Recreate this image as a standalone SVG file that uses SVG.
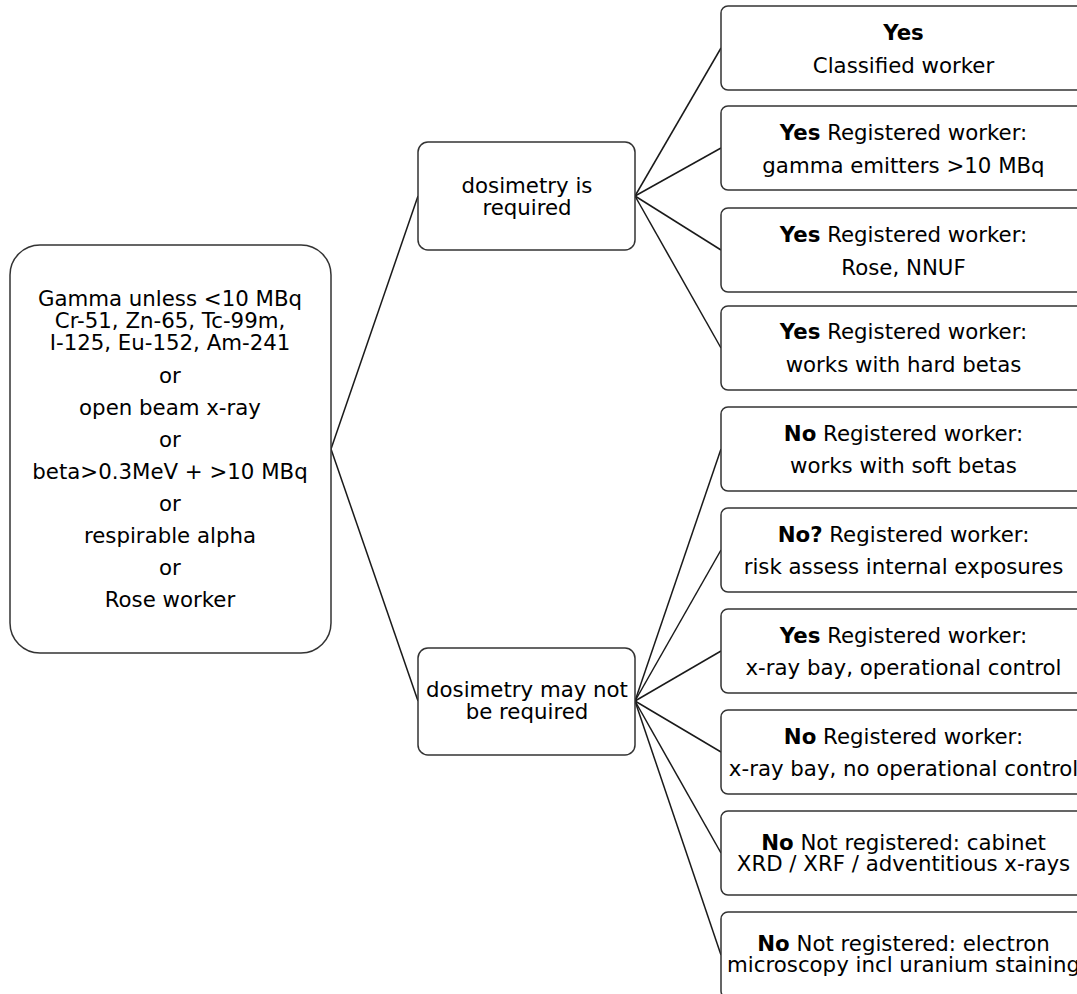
<svg xmlns="http://www.w3.org/2000/svg" width="1077" height="994" viewBox="0 0 1077 994">
<style>
.box{fill:#fff;stroke:#333;stroke-width:1.5}
.t{font-family:"DejaVu Sans",Verdana,sans-serif;font-size:21.3px;fill:#000;text-anchor:middle}
.b{font-weight:bold}
.c line{stroke:#1a1a1a;stroke-width:1.5}
</style>
<rect width="1077" height="994" fill="#fff"/>
<g class="c" id="connectors">
<line x1="331" y1="449" x2="418" y2="196"/>
<line x1="331" y1="449" x2="418" y2="701"/>
<line x1="635" y1="196" x2="721" y2="48"/>
<line x1="635" y1="196" x2="721" y2="148"/>
<line x1="635" y1="196" x2="721" y2="250"/>
<line x1="635" y1="196" x2="721" y2="348"/>
<line x1="635" y1="701" x2="721" y2="449"/>
<line x1="635" y1="701" x2="721" y2="550"/>
<line x1="635" y1="701" x2="721" y2="651"/>
<line x1="635" y1="701" x2="721" y2="752"/>
<line x1="635" y1="701" x2="721" y2="853"/>
<line x1="635" y1="701" x2="721" y2="955"/>
</g>
<g id="root">
<rect class="box" x="10" y="245" width="321" height="408" rx="30"/>
<text class="t" x="170" y="306">Gamma unless &lt;10 MBq</text>
<text class="t" x="170" y="328">Cr-51, Zn-65, Tc-99m,</text>
<text class="t" x="170" y="350">I-125, Eu-152, Am-241</text>
<text class="t" x="170" y="383">or</text>
<text class="t" x="170" y="415">open beam x-ray</text>
<text class="t" x="170" y="447">or</text>
<text class="t" x="170" y="479">beta&gt;0.3MeV + &gt;10 MBq</text>
<text class="t" x="170" y="511">or</text>
<text class="t" x="170" y="543">respirable alpha</text>
<text class="t" x="170" y="575">or</text>
<text class="t" x="170" y="607">Rose worker</text>
</g>
<g id="req">
<rect class="box" x="418" y="142" width="217" height="108" rx="10"/>
<text class="t" x="527" y="193">dosimetry is</text>
<text class="t" x="527" y="215">required</text>
</g>
<g id="notreq">
<rect class="box" x="418" y="648" width="217" height="107" rx="10"/>
<text class="t" x="527" y="697">dosimetry may not</text>
<text class="t" x="527" y="719">be required</text>
</g>
<g id="r1">
<rect class="box" x="721" y="6" width="365" height="84" rx="7"/>
<text class="t b" x="903.5" y="40">Yes</text>
<text class="t" x="903.5" y="73">Classified worker</text>
</g>
<g id="r2">
<rect class="box" x="721" y="106" width="365" height="84" rx="7"/>
<text class="t" x="903.5" y="140"><tspan class="b">Yes</tspan> Registered worker:</text>
<text class="t" x="903.5" y="173">gamma emitters &gt;10 MBq</text>
</g>
<g id="r3">
<rect class="box" x="721" y="208" width="365" height="84" rx="7"/>
<text class="t" x="903.5" y="242"><tspan class="b">Yes</tspan> Registered worker:</text>
<text class="t" x="903.5" y="275">Rose, NNUF</text>
</g>
<g id="r4">
<rect class="box" x="721" y="306" width="365" height="84" rx="7"/>
<text class="t" x="903.5" y="339"><tspan class="b">Yes</tspan> Registered worker:</text>
<text class="t" x="903.5" y="372">works with hard betas</text>
</g>
<g id="r5">
<rect class="box" x="721" y="407" width="365" height="84" rx="7"/>
<text class="t" x="903.5" y="441"><tspan class="b">No</tspan> Registered worker:</text>
<text class="t" x="903.5" y="473">works with soft betas</text>
</g>
<g id="r6">
<rect class="box" x="721" y="508" width="365" height="84" rx="7"/>
<text class="t" x="903.5" y="542"><tspan class="b">No?</tspan> Registered worker:</text>
<text class="t" x="903.5" y="574">risk assess internal exposures</text>
</g>
<g id="r7">
<rect class="box" x="721" y="609" width="365" height="84" rx="7"/>
<text class="t" x="903.5" y="643"><tspan class="b">Yes</tspan> Registered worker:</text>
<text class="t" x="903.5" y="675">x-ray bay, operational control</text>
</g>
<g id="r8">
<rect class="box" x="721" y="710" width="365" height="84" rx="7"/>
<text class="t" x="903.5" y="744"><tspan class="b">No</tspan> Registered worker:</text>
<text class="t" x="903.5" y="776">x-ray bay, no operational control</text>
</g>
<g id="r9">
<rect class="box" x="721" y="811" width="365" height="84" rx="7"/>
<text class="t" x="903.5" y="850"><tspan class="b">No</tspan> Not registered: cabinet</text>
<text class="t" x="903.5" y="871">XRD / XRF / adventitious x-rays</text>
</g>
<g id="r10">
<rect class="box" x="721" y="912" width="365" height="86" rx="7"/>
<text class="t" x="903.5" y="951"><tspan class="b">No</tspan> Not registered: electron</text>
<text class="t" x="903.5" y="972">microscopy incl uranium staining</text>
</g>
</svg>
